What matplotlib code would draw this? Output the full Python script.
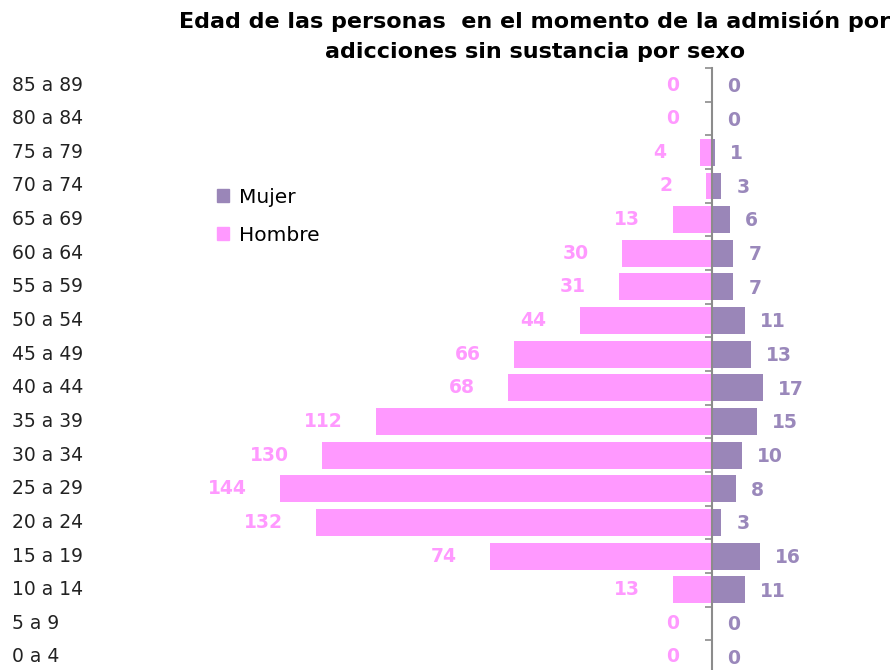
import matplotlib
matplotlib.use("Agg")
import matplotlib.pyplot as plt
from matplotlib.patches import Patch
import numpy as np

plt.rcParams.update({"font.family": "DejaVu Sans"})

# listed top row first
EDADES = ["85 a 89", "80 a 84", "75 a 79", "70 a 74", "65 a 69", "60 a 64",
          "55 a 59", "50 a 54", "45 a 49", "40 a 44", "35 a 39", "30 a 34",
          "25 a 29", "20 a 24", "15 a 19", "10 a 14", "5 a 9", "0 a 4"]
hombre = [0, 0, 4, 2, 13, 30, 31, 44, 66, 68, 112, 130, 144, 132, 74, 13, 0, 0]
mujer = [0, 0, 1, 3, 6, 7, 7, 11, 13, 17, 15, 10, 8, 3, 16, 11, 0, 0]

PINK, PURPLE = "#FF99FF", "#9A86B8"
PINK_TXT, PURPLE_TXT = "#FF99FF", "#9A88BB"

y = np.arange(len(EDADES))[::-1]

fig = plt.figure(figsize=(8.93, 6.70), dpi=100)
ax = fig.add_axes([0, -0.0057, 1, 0.9039])

ax.barh(y, -np.array(hombre), height=0.8, color=PINK)
ax.barh(y, mujer, height=0.8, color=PURPLE)

ax.set_xlim(-712 / 3.0, 181 / 3.0)
ax.set_ylim(-0.5, len(EDADES) - 0.5)

for yi, h, m in zip(y, hombre, mujer):
    ax.annotate(str(h), (-h, yi), xytext=(-24, 0), textcoords="offset points",
                ha="right", va="center", fontsize=13.5, fontweight="bold", color=PINK_TXT)
    ax.annotate(str(m), (m, yi), xytext=(11, -1), textcoords="offset points",
                ha="left", va="center", fontsize=13.5, fontweight="bold", color=PURPLE_TXT)
    ax.text(12 / 893, yi, EDADES[len(EDADES) - 1 - yi], transform=ax.get_yaxis_transform(),
            ha="left", va="center", fontsize=13.5, color="#222222")

for s in ["top", "right", "bottom"]:
    ax.spines[s].set_visible(False)
ax.spines["left"].set_position(("data", 0))
ax.spines["left"].set_color("#8c8c8c")
ax.spines["left"].set_linewidth(1.5)
ax.set_xticks([])
ax.set_yticks(np.arange(-0.5, len(EDADES), 1.0))
ax.set_yticklabels([])
ax.tick_params(axis="y", direction="out", length=5, width=1.2, color="#8c8c8c")

handles = [Patch(color=PURPLE, label="Mujer"), Patch(color=PINK, label="Hombre")]
fig.legend(handles=handles, loc="upper left", bbox_to_anchor=(0.243, 0.72),
           frameon=False, fontsize=14.5, handlelength=0.6, handleheight=0.6,
           handletextpad=0.5, labelspacing=0.95, borderpad=0, borderaxespad=0)

fig.text(0.599, 0.985, "Edad de las personas  en el momento de la admisión por\n"
         "adicciones sin sustancia por sexo", ha="center", va="top",
         fontsize=16, fontweight="bold", linespacing=1.68)

fig.savefig("out.png", dpi=100)
